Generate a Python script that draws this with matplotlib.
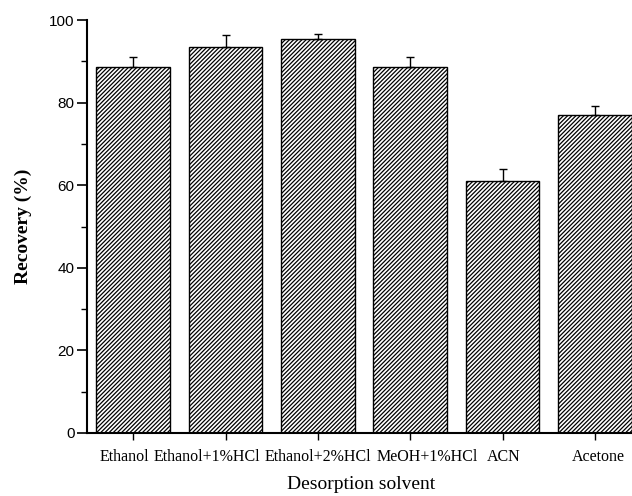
import matplotlib
matplotlib.use("Agg")
import matplotlib.pyplot as plt
from matplotlib.ticker import MultipleLocator
from matplotlib.transforms import ScaledTranslation

categories = ["Ethanol", "Ethanol+1%HCl", "Ethanol+2%HCl", "MeOH+1%HCl", "ACN", "Acetone"]
recovery = [88.7, 93.4, 95.5, 88.7, 60.9, 76.9]
error = [2.4, 2.9, 1.1, 2.4, 3.1, 2.3]

plt.rcParams['hatch.linewidth'] = 0.9
plt.rcParams['hatch.color'] = '#3a3a3a'

fig = plt.figure(figsize=(6.32, 4.96), dpi=100)
left = 87 / 632
bottom = (496 - 433) / 496
width = (641 - 87) / 632
height = (433 - 20) / 496
ax = fig.add_axes([left, bottom, width, height])

x = list(range(1, len(categories) + 1))
ax.bar(x, recovery, width=0.8, facecolor='white', edgecolor='black', linewidth=1.0,
       hatch='////////', zorder=2)
ax.errorbar(x, recovery, yerr=[[0] * len(error), error], fmt='none', ecolor='black',
            elinewidth=1.0, capsize=3, capthick=1.0, zorder=3)

ax.set_xlim(0.5, 6.5)
ax.set_ylim(0, 100)
ax.spines['top'].set_visible(False)
ax.spines['right'].set_visible(False)
ax.spines['left'].set_linewidth(1.5)
ax.spines['bottom'].set_linewidth(1.5)

ax.set_xticks(x)
ax.set_xticklabels([])
# category labels, shifted horizontally (pixels) as in the original layout
label_shift = [-9, -19, 0, 17, 1, 4]
for xi, name, dx in zip(x, categories, label_shift):
    tr = ax.get_xaxis_transform() + ScaledTranslation(dx / 100, -16 / 100, fig.dpi_scale_trans)
    ax.text(xi, 0, name, transform=tr, ha='center', va='top',
            fontfamily='Liberation Serif', fontsize=11.5, clip_on=False)

ax.yaxis.set_major_locator(MultipleLocator(20))
ax.yaxis.set_minor_locator(MultipleLocator(10))
for lab in ax.get_yticklabels():
    lab.set_fontfamily('Liberation Sans')
    lab.set_fontsize(11)
ax.tick_params(axis='y', which='major', direction='out', length=7, width=1.2, pad=2)
ax.tick_params(axis='y', which='minor', direction='out', length=4, width=1.0)
ax.tick_params(axis='x', which='major', direction='out', length=5, width=1.0)

ax.set_ylabel("Recovery (%)", fontfamily='Liberation Serif', fontweight='bold', fontsize=14, labelpad=12)
ax.set_xlabel("Desorption solvent", fontfamily='Liberation Serif', fontsize=14)
ax.xaxis.set_label_coords((361 - 87) / (641 - 87), -0.105)

fig.savefig("out.png", dpi=100)
